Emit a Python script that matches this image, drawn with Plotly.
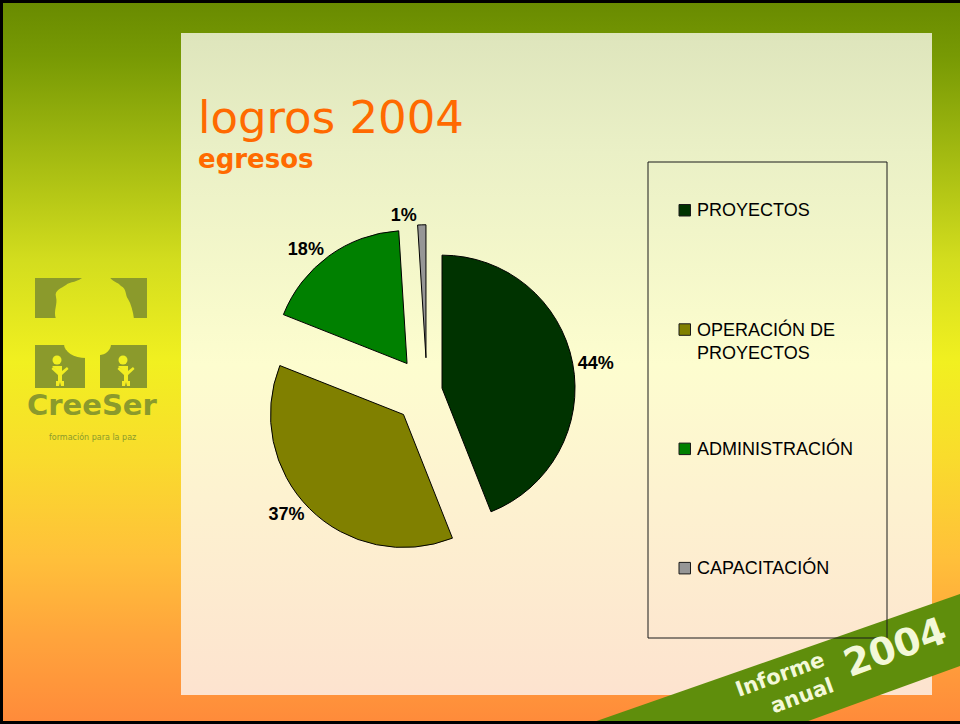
"""Pie chart slide: logros 2004 / egresos."""

import base64

import plotly.graph_objects as go

W, H = 960, 724

LABELS = ["PROYECTOS", "OPERACIÓN DE<br>PROYECTOS", "ADMINISTRACIÓN", "CAPACITACIÓN"]
VALUES = [44, 37, 18, 1]
COLORS = ["#003300", "#808000", "#008000", "#969696"]
PULLS = [0.115, 0.25, 0.255, 0.25]

TITLE = "logros 2004"
SUBTITLE = "egresos"
ORANGE = "#ff6a00"
OLIVE = "#8b9a2c"
BAND = "#5f8e0c"
BAND_TEXT = "#f3f8d8"


def X(px):
    return px / W


def Y(py):
    return 1 - py / H


def _background_svg() -> str:
    bg_stops = [
        (0.00, "#688a00"), (0.08, "#789a04"), (0.18, "#98b20e"), (0.36, "#d3dd1e"),
        (0.50, "#f1f020"), (0.63, "#f9dc2c"), (0.77, "#ffc03a"), (0.88, "#ffa43c"), (1.00, "#ff8a3a"),
    ]
    panel_stops = [
        (0.00, "#dee5bc"), (0.18, "#eaf0c6"), (0.42, "#f8facc"), (0.50, "#fdfdcf"),
        (0.70, "#fdf2d0"), (1.00, "#fde3cf"),
    ]
    bg = "".join(f'<stop offset="{o}" stop-color="{c}"/>' for o, c in bg_stops)
    panel = "".join(f'<stop offset="{o}" stop-color="{c}"/>' for o, c in panel_stops)
    kid = (
        '<circle cx="{x}" cy="360" r="4.5" fill="url(#bg)"/>'
        '<path d="M{a},366 h10 v5 l5,-4 l1.5,2 l-6.5,6 v6 h2 v5 h-3 l-1,-4 l-1,4 h-3 v-5 h2 v-6 '
        'l-6.5,-6 l1.5,-2 l5,4 z" fill="url(#bg)"/>'
    )
    svg = f'''<svg xmlns="http://www.w3.org/2000/svg" width="{W}" height="{H}" viewBox="0 0 {W} {H}" preserveAspectRatio="none">
<defs>
<linearGradient id="bg" gradientUnits="userSpaceOnUse" x1="0" y1="0" x2="0" y2="{H}">{bg}</linearGradient>
<linearGradient id="panel" gradientUnits="userSpaceOnUse" x1="0" y1="33" x2="0" y2="695">{panel}</linearGradient>
</defs>
<rect x="0" y="0" width="{W}" height="{H}" fill="url(#bg)"/>
<rect x="181" y="33" width="751" height="662" fill="url(#panel)"/>
<g fill="{OLIVE}">
<rect x="35" y="278" width="112" height="40"/>
<rect x="35" y="345" width="50" height="43"/>
<rect x="100" y="345" width="47" height="43"/>
<circle cx="89" cy="349" r="4.5"/>
</g>
<path d="M56,319 C53,311 58,304 56,297 C54,290 62,288 66,285 C70,281 78,283 84,276 L109,276
 C112,282 118,282 121,286 C127,289 125,295 128,299 C131,304 133,311 134,319 Z" fill="url(#bg)"/>
<ellipse cx="86" cy="344" rx="22" ry="14" fill="url(#bg)"/>
<ellipse cx="99" cy="344" rx="12" ry="11" fill="url(#bg)"/>
{kid.format(x=57, a=52)}
{kid.format(x=123, a=118)}
<polygon points="588,724 960,594 960,666 800,724" fill="{BAND}"/>
<rect x="0" y="0" width="{W}" height="3" fill="#000"/>
<rect x="0" y="0" width="3" height="{H}" fill="#000"/>
<rect x="0" y="721" width="{W}" height="3" fill="#000"/>
</svg>'''
    return "data:image/svg+xml;base64," + base64.b64encode(svg.encode("utf-8")).decode("ascii")


# pie box: centre (427, 391), radius 133 -> box half side r * (1 + max pull)
cx, cy, r = 427, 391, 133
half = r * (1 + max(PULLS))

fig = go.Figure(
    go.Pie(
        labels=LABELS,
        values=VALUES,
        sort=False,
        direction="clockwise",
        rotation=0,
        pull=PULLS,
        marker={"colors": COLORS, "line": {"color": "#000000", "width": 1}},
        textposition="outside",
        texttemplate="%{percent:.0%}",
        textfont={"family": "Liberation Sans, Arial, sans-serif", "size": 18, "color": "#000000", "weight": "bold"},
        showlegend=False,
        hoverinfo="label+percent",
        domain={"x": [X(cx - half), X(cx + half)], "y": [Y(cy + half), Y(cy - half)]},
    )
)

shapes = [
    # legend frame
    dict(type="rect", xref="paper", yref="paper", x0=X(648), x1=X(887), y0=Y(638), y1=Y(162),
         line={"color": "#1a1a1a", "width": 1}, fillcolor="rgba(0,0,0,0)"),
]
annotations = [
    dict(text=TITLE, x=X(196), y=Y(117), xanchor="left", yanchor="middle", showarrow=False,
         font={"family": "DejaVu Sans", "size": 45, "color": ORANGE}),
    dict(text=SUBTITLE, x=X(196), y=Y(159), xanchor="left", yanchor="middle", showarrow=False,
         font={"family": "DejaVu Sans", "size": 26, "color": ORANGE, "weight": "bold"}),
    dict(text="CreeSer", x=X(92), y=Y(405), xanchor="center", yanchor="middle", showarrow=False,
         font={"family": "DejaVu Sans", "size": 29, "color": OLIVE, "weight": "bold"}),
    dict(text="formación para la paz", x=X(92), y=Y(437), xanchor="center", yanchor="middle", showarrow=False,
         font={"family": "DejaVu Sans", "size": 8, "color": OLIVE}),
    dict(text="Informe<br>anual", x=X(784), y=Y(687), xanchor="center", yanchor="middle", showarrow=False,
         align="right", textangle=-20,
         font={"family": "DejaVu Sans", "size": 21, "color": BAND_TEXT, "weight": "bold"}),
    dict(text="2004", x=X(895), y=Y(647), xanchor="center", yanchor="middle", showarrow=False,
         textangle=-20, font={"family": "DejaVu Sans", "size": 38, "color": BAND_TEXT, "weight": "bold"}),
]

# legend entries, evenly spread inside the frame
item_top, item_step, font_size = 210, 119.3, 18
for i, (label, color) in enumerate(zip(LABELS, COLORS)):
    yc = item_top + i * item_step
    shapes.append(dict(type="rect", xref="paper", yref="paper", x0=X(679), x1=X(690.5),
                       y0=Y(yc + 6), y1=Y(yc - 5.5), fillcolor=color, line={"color": "#1a1a1a", "width": 1}))
    n_lines = label.count("<br>") + 1
    annotations.append(dict(
        text=label, x=X(695), y=Y(yc + (n_lines - 1) * 0.65 * font_size), xanchor="left", yanchor="middle",
        align="left", showarrow=False,
        font={"family": "Liberation Sans, Arial, sans-serif", "size": font_size, "color": "#000000"},
    ))

fig.update_layout(
    width=W,
    height=H,
    margin={"l": 0, "r": 0, "t": 0, "b": 0},
    paper_bgcolor="#f2f020",
    images=[dict(source=_background_svg(), xref="paper", yref="paper", x=0, y=1, sizex=1, sizey=1,
                 xanchor="left", yanchor="top", sizing="stretch", layer="below")],
    shapes=shapes,
    annotations=annotations,
)

# the page body has a default 8px margin; drop it so the slide fills the window
fig.write_html(
    "out.html",
    config={"displayModeBar": False},
    post_script="document.body.style.margin = '0'; document.body.style.overflow = 'hidden';",
)
